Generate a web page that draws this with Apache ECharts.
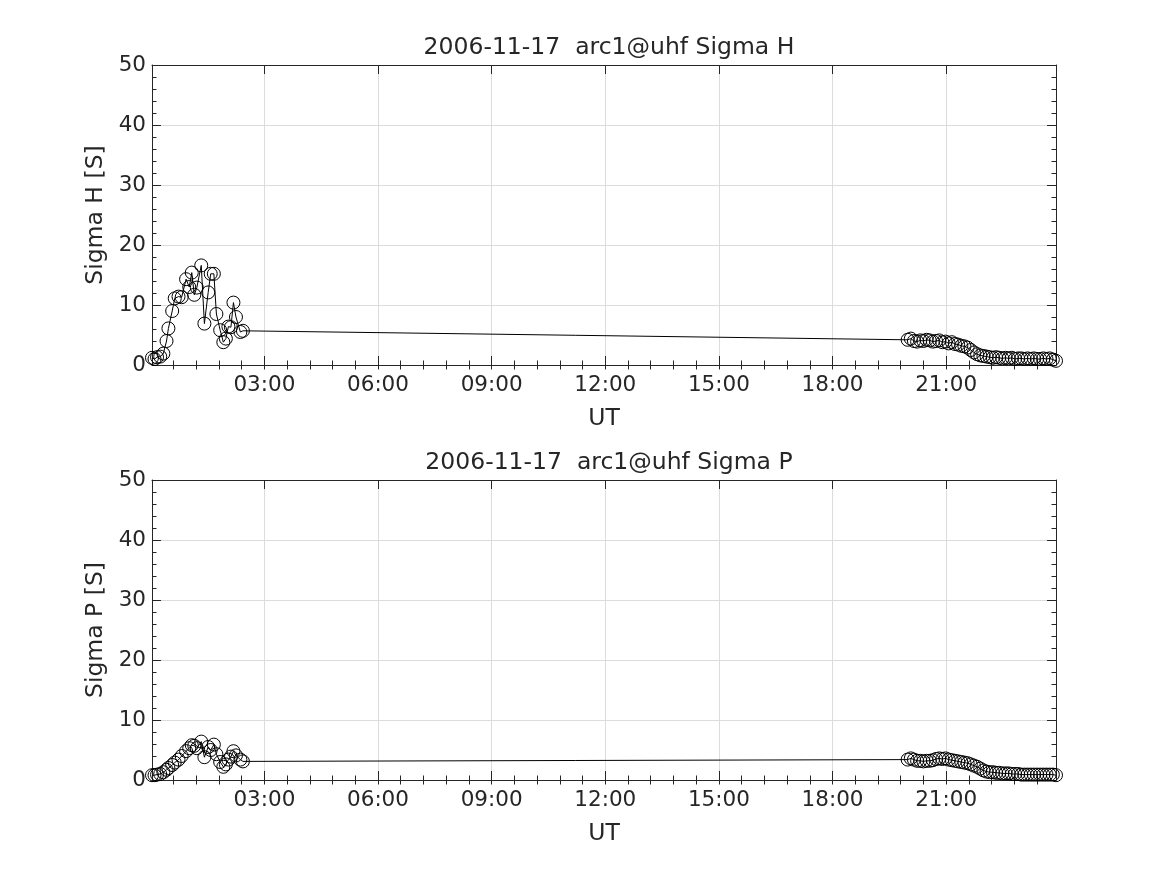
<!DOCTYPE html>
<html>
<head>
<meta charset="utf-8">
<script src="https://cdn.jsdelivr.net/npm/echarts@6/dist/echarts.min.js"></script>
<style>
html,body{margin:0;padding:0;background:#fff;}
#chart{width:1167px;height:875px;}
</style>
</head>
<body>
<div id="chart"></div>
<script>
// ---- data (time in minutes of day, UT) ----
const timesEarly = [2, 6, 10, 15, 20, 25, 28, 34, 38, 44, 49, 56, 61, 65, 69, 73, 80, 85, 91, 95, 100, 104, 110, 115, 119, 123, 127, 131, 135, 142, 146];
const timesLate = [1199, 1204, 1209, 1214, 1219, 1224, 1229, 1234, 1239, 1244, 1249, 1254, 1259, 1264, 1269, 1274, 1279, 1284, 1289, 1294, 1299, 1304, 1309, 1314, 1319, 1324, 1329, 1334, 1339, 1344, 1349, 1354, 1359, 1364, 1369, 1374, 1379, 1384, 1389, 1394, 1399, 1404, 1409, 1414, 1419, 1424, 1429, 1434];

const sigmaHEarly = [1.2, 1.0, 1.3, 1.4, 1.9, 4.0, 6.1, 9.0, 11.1, 11.4, 11.3, 14.3, 13.0, 15.4, 11.7, 12.9, 16.6, 6.9, 12.1, 15.2, 15.2, 8.5, 5.8, 3.8, 4.4, 6.4, 6.3, 10.4, 8.0, 5.5, 5.7];
const sigmaHLate = [4.2, 4.4, 4.0, 3.9, 4.1, 4.0, 4.2, 4.1, 3.9, 4.0, 4.1, 3.8, 3.9, 3.6, 3.8, 3.5, 3.4, 3.2, 3.1, 2.9, 2.5, 2.1, 1.8, 1.6, 1.5, 1.4, 1.3, 1.2, 1.3, 1.2, 1.1, 1.2, 1.1, 1.2, 1.0, 1.1, 1.1, 1.0, 1.1, 1.0, 1.1, 1.0, 1.0, 1.1, 1.0, 1.1, 0.9, 0.7];

const sigmaPEarly = [0.8, 0.8, 0.9, 1.0, 1.3, 1.7, 2.0, 2.5, 2.9, 3.4, 4.0, 4.8, 5.3, 5.8, 5.7, 5.3, 6.4, 3.8, 5.5, 5.0, 5.9, 4.3, 3.0, 2.2, 2.6, 3.4, 3.9, 4.8, 4.1, 3.4, 3.1];
const sigmaPLate = [3.4, 3.6, 3.4, 3.2, 3.2, 3.1, 3.2, 3.2, 3.3, 3.5, 3.6, 3.5, 3.6, 3.4, 3.3, 3.2, 3.1, 3.0, 2.9, 2.8, 2.6, 2.4, 2.2, 1.9, 1.6, 1.4, 1.3, 1.3, 1.2, 1.2, 1.1, 1.1, 1.1, 1.0, 1.0, 1.0, 0.9, 0.9, 0.9, 0.9, 0.9, 0.9, 0.9, 0.9, 0.9, 0.9, 0.9, 0.8];

const majorTicks = [180, 360, 540, 720, 900, 1080, 1260];
const yTicks = [0, 10, 20, 30, 40, 50];
const titles = ['2006-11-17  arc1@uhf Sigma H', '2006-11-17  arc1@uhf Sigma P'];
const yNames = ['Sigma H [S]', 'Sigma P [S]'];
const xName = 'UT';

// minor ticks every 36 min (axis decoration)
const minorTicks = [];
for (let m = 36; m < 1440; m += 36) minorTicks.push(m);

const times = timesEarly.concat(timesLate);
const seriesVals = [sigmaHEarly.concat(sigmaHLate), sigmaPEarly.concat(sigmaPLate)];

const FONT = 'DejaVu Sans';
const TXT = '#262626';
const TICK_FS = 21.5, LABEL_FS = 23.5;
const xMin = times[0], xMax = times[times.length - 1];

function fmt(v) {
  const h = Math.floor(v / 60), m = Math.round(v % 60);
  return String(h).padStart(2, '0') + ':' + String(m).padStart(2, '0');
}

const grids = [
  {left: 152, top: 65, width: 904, height: 300},
  {left: 152, top: 480, width: 904, height: 300}
];

const xAxes = [], yAxes = [], series = [], titleOpts = [];
grids.forEach((g, gi) => {
  titleOpts.push({
    text: titles[gi], left: g.left + g.width / 2, textAlign: 'center', top: g.top - 34,
    textStyle: {fontFamily: FONT, fontSize: LABEL_FS, fontWeight: 'normal', color: TXT}
  });
  // bottom major
  xAxes.push({
    gridIndex: gi, type: 'value', min: xMin, max: xMax, position: 'bottom',
    name: xName, nameLocation: 'middle', nameGap: 42,
    nameTextStyle: {fontFamily: FONT, fontSize: LABEL_FS, color: TXT},
    axisLine: {show: true, onZero: false, lineStyle: {color: TXT, width: 1}},
    axisTick: {show: true, inside: true, length: 9, customValues: majorTicks, lineStyle: {color: TXT}},
    axisLabel: {show: true, customValues: majorTicks, formatter: fmt, fontFamily: FONT, fontSize: TICK_FS, color: TXT, margin: 9},
    splitLine: {show: true, lineStyle: {color: '#dcdcdc', width: 1}}
  });
  // bottom minor
  xAxes.push({
    gridIndex: gi, type: 'value', min: xMin, max: xMax, position: 'bottom',
    axisLine: {show: false},
    axisTick: {show: true, inside: true, length: 4.5, customValues: minorTicks, lineStyle: {color: TXT}},
    axisLabel: {show: false}, splitLine: {show: false}
  });
  // top major
  xAxes.push({
    gridIndex: gi, type: 'value', min: xMin, max: xMax, position: 'top',
    axisLine: {show: true, onZero: false, lineStyle: {color: TXT, width: 1}},
    axisTick: {show: true, inside: true, length: 9, customValues: majorTicks, lineStyle: {color: TXT}},
    axisLabel: {show: false}, splitLine: {show: false}
  });
  // top minor
  xAxes.push({
    gridIndex: gi, type: 'value', min: xMin, max: xMax, position: 'top',
    axisLine: {show: false},
    axisTick: {show: true, inside: true, length: 4.5, customValues: minorTicks, lineStyle: {color: TXT}},
    axisLabel: {show: false}, splitLine: {show: false}
  });
  // left y
  yAxes.push({
    gridIndex: gi, type: 'value', min: yTicks[0], max: yTicks[yTicks.length - 1], interval: 10, position: 'left',
    name: yNames[gi], nameLocation: 'middle', nameGap: 40,
    nameTextStyle: {fontFamily: FONT, fontSize: LABEL_FS, color: TXT},
    axisLine: {show: true, onZero: false, lineStyle: {color: TXT, width: 1}},
    axisTick: {show: true, inside: true, length: 9, lineStyle: {color: TXT}},
    minorTick: {show: true, splitNumber: 5, length: 4.5, lineStyle: {color: TXT}},
    axisLabel: {show: true, fontFamily: FONT, fontSize: TICK_FS, color: TXT, margin: 6},
    splitLine: {show: true, lineStyle: {color: '#dcdcdc', width: 1}}
  });
  // right y
  yAxes.push({
    gridIndex: gi, type: 'value', min: yTicks[0], max: yTicks[yTicks.length - 1], interval: 10, position: 'right',
    axisLine: {show: true, onZero: false, lineStyle: {color: TXT, width: 1}},
    axisTick: {show: true, inside: true, length: 9, lineStyle: {color: TXT}},
    minorTick: {show: true, splitNumber: 5, length: 4.5, lineStyle: {color: TXT}},
    axisLabel: {show: false}, splitLine: {show: false}
  });
  series.push({
    type: 'line', xAxisIndex: gi * 4, yAxisIndex: gi * 2,
    data: times.map((t, i) => [t, seriesVals[gi][i]]),
    symbol: 'circle', symbolSize: 13, showAllSymbol: true, clip: false,
    lineStyle: {color: '#000', width: 1},
    itemStyle: {color: 'rgba(0,0,0,0)', borderColor: '#000', borderWidth: 1},
    emphasis: {disabled: true}, animation: false, z: 5
  });
});

const chart = echarts.init(document.getElementById('chart'), null, {renderer: 'canvas'});
chart.setOption({
  backgroundColor: '#fff',
  animation: false,
  title: titleOpts,
  grid: grids,
  xAxis: xAxes,
  yAxis: yAxes,
  series: series
});
</script>
</body>
</html>
